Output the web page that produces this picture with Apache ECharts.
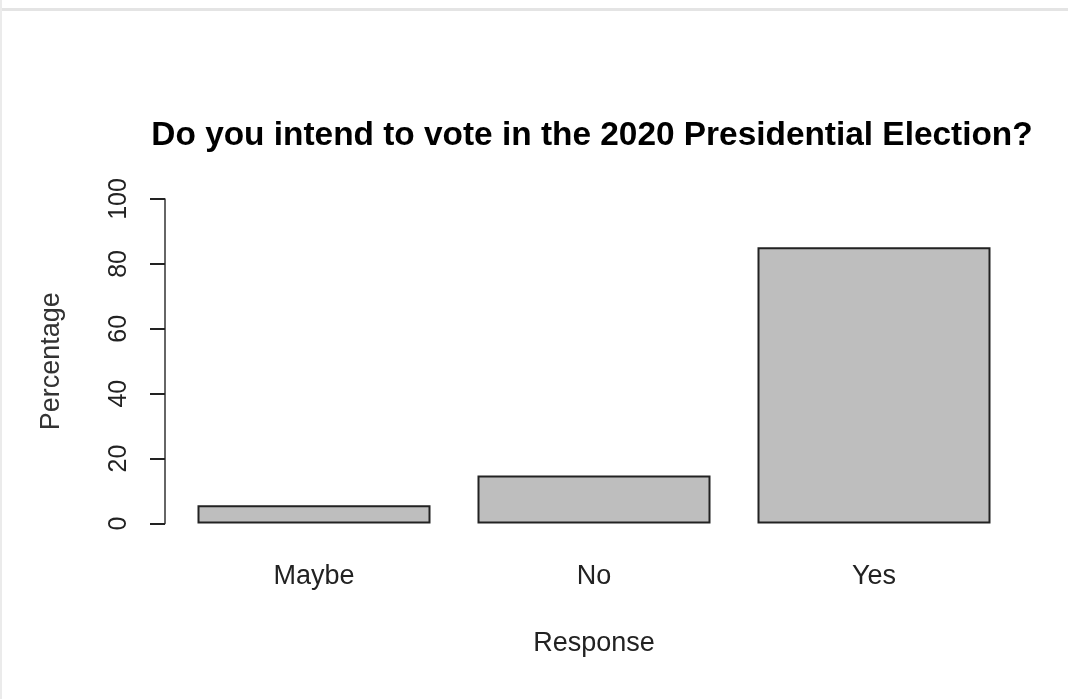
<!DOCTYPE html>
<html>
<head>
<meta charset="utf-8">
<script src="https://cdn.jsdelivr.net/npm/echarts@6/dist/echarts.min.js"></script>
<style>
  html, body { margin: 0; padding: 0; background: #fff; }
  #chart { width: 1068px; height: 699px; }
</style>
</head>
<body>
<div id="chart"></div>
<script>
var myChart = echarts.init(document.getElementById("chart"));

const categories = ["Maybe", "No", "Yes"];
const percentages = [5.6, 14.8, 85.1];
const yTicks = [0, 20, 40, 60, 80, 100];

const font = "Liberation Sans, Arial, sans-serif";

const option = {
  backgroundColor: "#fff",
  animation: false,
  title: {
    text: "Do you intend to vote in the 2020 Presidential Election?",
    left: 587,
    top: 114,
    textAlign: "center",
    textStyle: {
      fontFamily: font,
      fontWeight: "bold",
      fontSize: 33.4,
      color: "#000",
    },
  },
  // light frame of the screenshot (top and left edges)
  graphic: [
    { type: "rect", shape: { x: 0, y: 8, width: 1068, height: 3 }, style: { fill: "#e4e4e4" } },
    { type: "rect", shape: { x: 0, y: 0, width: 2, height: 699 }, style: { fill: "#ebebeb" } },
  ],
  grid: {
    left: 174,
    right: 54,
    top: 199,
    bottom: 175.5,
  },
  xAxis: {
    type: "category",
    data: categories,
    axisLine: { show: false },
    axisTick: { show: false },
    axisLabel: {
      margin: 40,
      fontFamily: font,
      fontSize: 27,
      color: "#222",
    },
    name: "Response",
    nameLocation: "middle",
    nameGap: 107,
    nameTextStyle: {
      fontFamily: font,
      fontSize: 27,
      color: "#222",
    },
  },
  yAxis: {
    type: "value",
    min: 0,
    max: 100,
    interval: 20,
    offset: 9,
    splitLine: { show: false },
    axisLine: { show: true, lineStyle: { color: "#333", width: 1.5 } },
    axisTick: { show: true, length: 15, lineStyle: { color: "#222", width: 2 } },
    axisLabel: {
      rotate: 90,
      margin: 33,
      fontFamily: font,
      fontSize: 25,
      color: "#222",
      formatter: function (v) {
        return yTicks.indexOf(v) >= 0 ? String(v) : "";
      },
    },
    name: "Percentage",
    nameLocation: "middle",
    nameGap: 100,
    nameTextStyle: {
      fontFamily: font,
      fontSize: 27,
      color: "#333",
    },
  },
  series: [
    {
      type: "bar",
      data: percentages,
      barWidth: 233,
      itemStyle: {
        color: "#bebebe",
        borderColor: "#222",
        borderWidth: 2,
      },
    },
  ],
};

myChart.setOption(option);
</script>
</body>
</html>
